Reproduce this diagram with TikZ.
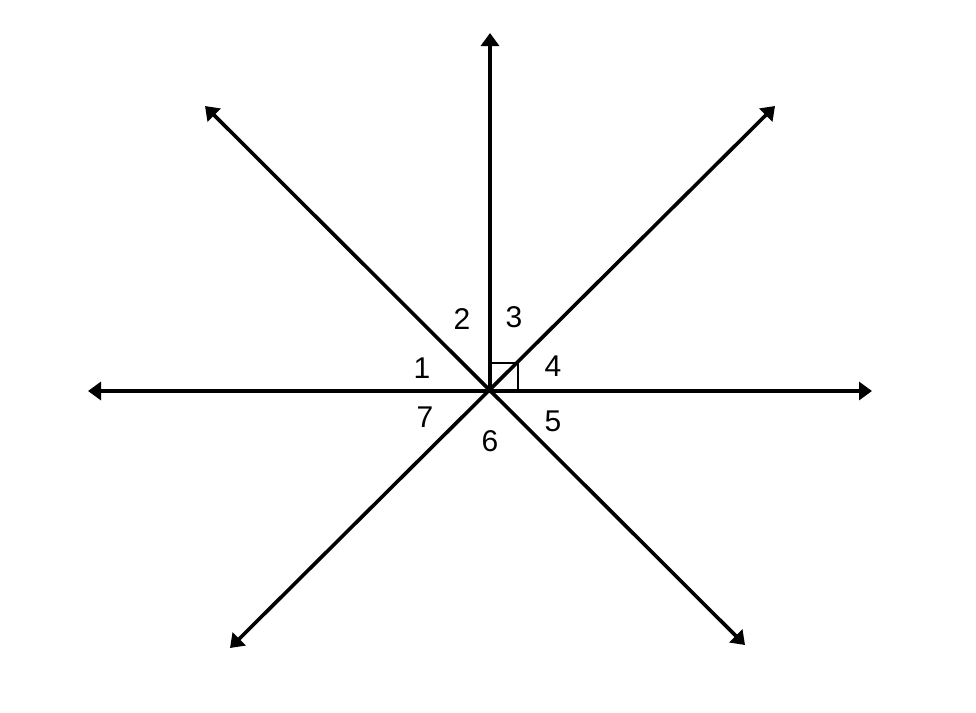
\documentclass[tikz,border=0pt]{standalone}
\usepackage{fontspec}
\setmainfont{Liberation Sans}
\usetikzlibrary{arrows.meta,calc}
\begin{document}
\begin{tikzpicture}[x=1pt,y=-1pt,
  tip/.style={},
  ray/.style={line width=3.6pt,{Triangle[length=13pt,width=18pt]}-{Triangle[length=13pt,width=18pt]}},
  rayone/.style={line width=3.6pt,-{Triangle[length=13pt,width=18pt]}},
  lbl/.style={font=\fontsize{30}{30}\selectfont,inner sep=0pt}]
\useasboundingbox (0,0) rectangle (976,712);
\coordinate (O) at (490,391);
\coordinate (W) at (88,391);
\coordinate (E) at (872,391);
\coordinate (N) at (490,33);
\coordinate (NW) at (205,106);
\coordinate (SE) at (745,645);
\coordinate (NE) at (775,106);
\coordinate (SW) at (230,648);
\coordinate (sqa) at ($(O)+(0,-28)$);
\coordinate (sqb) at ($(O)+(28,0)$);
\draw[ray] (W) -- (E);
\draw[ray] (NW) -- (SE);
\draw[ray] (SW) -- (NE);
\draw[rayone] (O) -- (N);
\draw[line width=2.6pt] (sqa) -| (sqb);
\node[lbl] (l1) at (422,368) {1};
\node[lbl] (l2) at (462,319) {2};
\node[lbl] (l3) at (514,317) {3};
\node[lbl] (l4) at (553,366) {4};
\node[lbl] (l5) at (553,421) {5};
\node[lbl] (l6) at (490,441) {6};
\node[lbl] (l7) at (425,417) {7};
\end{tikzpicture}
\end{document}
